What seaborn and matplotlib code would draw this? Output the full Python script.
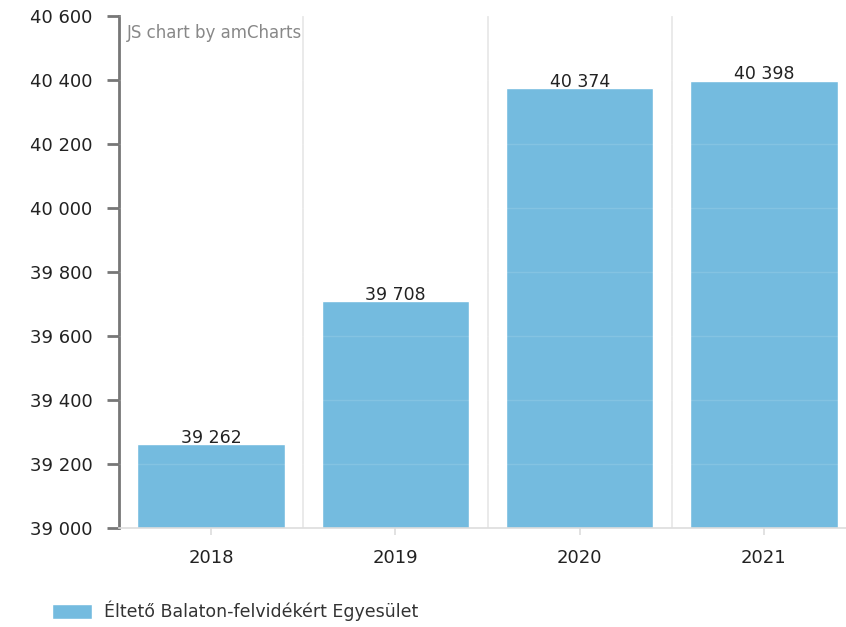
import matplotlib
matplotlib.use("Agg")
import matplotlib.pyplot as plt
import matplotlib.ticker as mticker
import seaborn as sns
import pandas as pd

years = ["2018", "2019", "2020", "2021"]
values = [39262, 39708, 40374, 40398]
series_name = "Éltető Balaton-felvidékért Egyesület"
y_ticks = [39000, 39200, 39400, 39600, 39800, 40000, 40200, 40400, 40600]

bar_color = "#74bbdf"

sns.set_theme(style="white")
plt.rcParams['font.family'] = ['DejaVu Sans']

df = pd.DataFrame({"year": years, "value": values, "series": series_name})

fig = plt.figure(figsize=(8.46, 6.27), dpi=100)
ax = fig.add_axes([119 / 846, 1 - 528 / 627, 737 / 846, 512 / 627])

sns.barplot(df, x="year", y="value", hue="series", palette=[bar_color],
            width=0.8, saturation=1, ax=ax, zorder=2, legend=True)

ax.set_ylim(39000, 40600)
ax.set_xlim(-0.5, 3.5)
ax.set_yticks(y_ticks)
ax.yaxis.set_major_formatter(mticker.FuncFormatter(lambda v, p: f"{int(v):,}".replace(",", " ")))
ax.set_xlabel("")
ax.set_ylabel("")

# value labels
for i, v in enumerate(values):
    ax.annotate(f"{v:,}".replace(",", " "), (i, v), xytext=(0, 1),
                textcoords="offset points", ha="center", va="baseline",
                fontsize=12.5, color="#222222", zorder=4)

# horizontal grid on top of bars (faint), vertical category separators behind
for y in y_ticks[1:]:
    ax.axhline(y, color="white", alpha=0.12, lw=1, zorder=3)
for x in [0.5, 1.5, 2.5]:
    ax.axvline(x, color="#e6e6e6", lw=1.2, zorder=1)

for s in ["top", "right"]:
    ax.spines[s].set_visible(False)
ax.spines["left"].set_color("#777777")
ax.spines["left"].set_linewidth(2)
ax.spines["bottom"].set_color("#dddddd")
ax.spines["bottom"].set_linewidth(1.2)

ax.tick_params(axis="y", which="major", left=True, length=9, width=2,
               color="#777777", labelsize=13, labelcolor="#222222", pad=10)
ax.tick_params(axis="x", which="major", bottom=True, length=5, width=1.2,
               color="#dddddd", labelsize=13, labelcolor="#222222", pad=10)

ax.text(0.011, 0.985, "JS chart by amCharts", transform=ax.transAxes,
        ha="left", va="top", fontsize=12, color="#888888")

leg = ax.legend(loc="center left", bbox_to_anchor=(36 / 846, 1 - 611 / 627),
                bbox_transform=fig.transFigure, frameon=False, fontsize=12.5,
                handlelength=2.3, handleheight=1.0, handletextpad=0.7)
for t in leg.get_texts():
    t.set_color("#333333")

fig.savefig("out.png", dpi=100)
